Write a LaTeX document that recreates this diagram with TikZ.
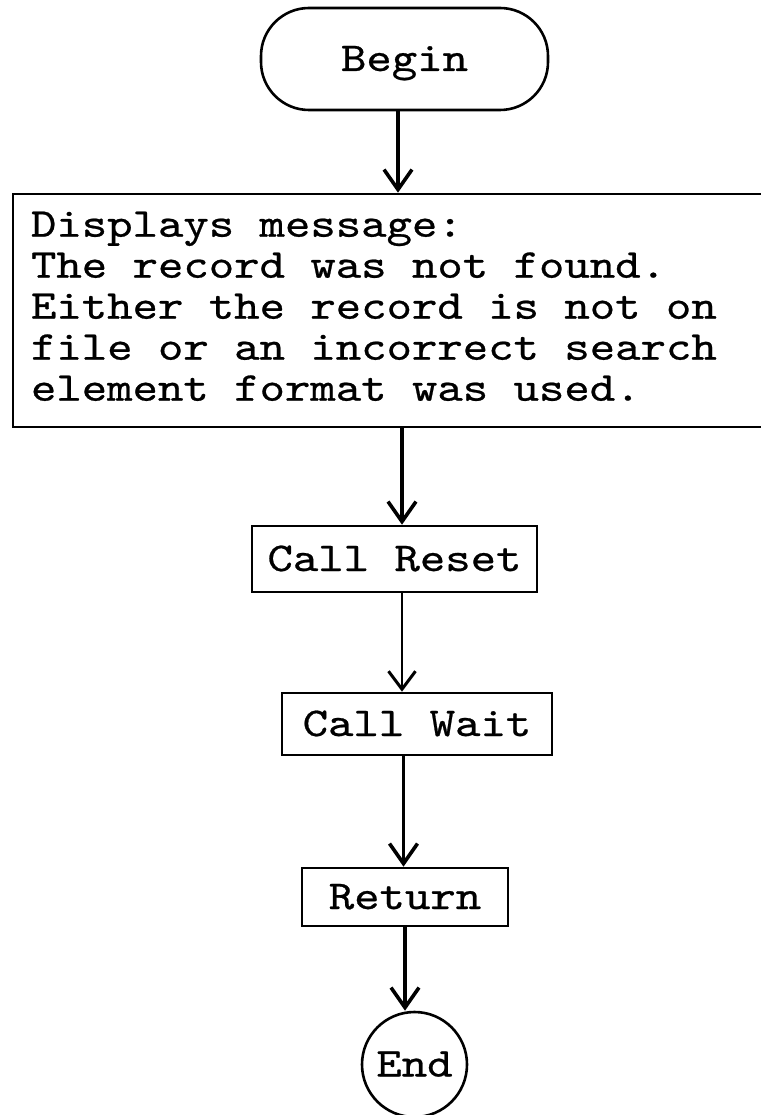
\documentclass[tikz,border=0pt]{standalone}
\usepackage{fontspec}
\setmonofont{lmmono10-regular.otf}[FakeStretch=1.18, FakeBold=0.6]
\usetikzlibrary{arrows.meta}
\begin{document}
\begin{tikzpicture}[x=1pt,y=-1pt,
  every node/.style={font=\fontsize{41}{41}\selectfont\ttfamily},
  box/.style={draw, line width=2.6pt, rectangle, inner sep=0pt,
              text height=24pt, text depth=0pt},
  msgbox/.style={draw, line width=2.6pt, rectangle, inner xsep=18pt, inner ysep=0pt,
                 minimum width=762pt, minimum height=233pt, text width=726pt, align=left},
  arr/.style={line width=3.6pt, -{Straight Barb[length=20pt,width=28pt]}},
  thinarr/.style={line width=1.7pt, -{Straight Barb[length=18pt,width=27pt,line width=3pt]}}]

% page area
\path[use as bounding box, fill=white] (0,0) rectangle (760,1115);

% flowchart nodes
\node[box, rounded corners=48pt, minimum width=287pt, minimum height=102pt]
  (start) at (404.5,59) {Begin};
\node[msgbox] (msg) at (394,310.5)
  {\spaceskip=0pt\xspaceskip=0pt\relax
   \strut Displays message:\\The record was not found.\\Either the record is not on\\file or an incorrect search\\element format was used.\strut};
\node[box, minimum width=285pt, minimum height=66pt] (reset) at (394.5,559) {Call Reset};
\node[box, minimum width=270pt, minimum height=62pt] (wait) at (417,724) {Call Wait};
\node[box, minimum width=206pt, minimum height=58pt] (ret) at (405,897) {Return};
\node[draw, circle, line width=2.6pt, minimum size=105pt, inner sep=0pt,
      text height=24pt, text depth=0pt] (stop) at (414.5,1064.5) {End};

% connectors
\draw[arr] ([xshift=-6.5pt]start.south) -- ([xshift=-6.5pt]start.south |- msg.north);
\draw[arr] ([xshift=7.5pt]reset.north |- msg.south) -- ([xshift=7.5pt]reset.north);
\draw[thinarr] ([xshift=7.5pt]reset.south) -- ([xshift=7.5pt]reset.south |- wait.north);
\draw[arr] ([xshift=-1.5pt]ret.north |- wait.south) -- ([xshift=-1.5pt]ret.north);
\draw[arr] (ret.south) -- (ret.south |- stop.north);
\end{tikzpicture}
\end{document}
